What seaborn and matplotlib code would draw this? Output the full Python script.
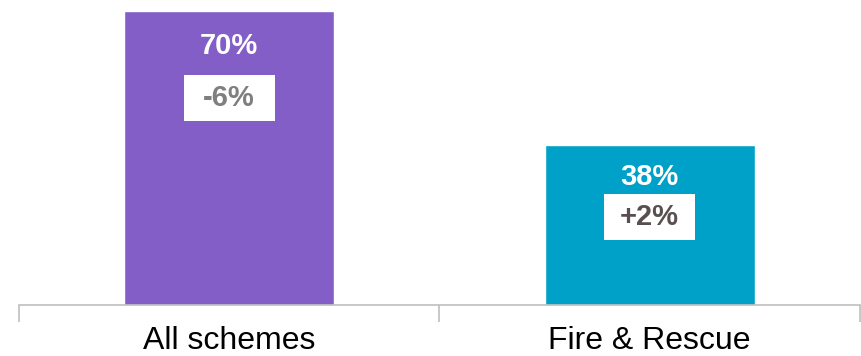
import matplotlib
matplotlib.use("Agg")
import matplotlib.pyplot as plt
import matplotlib.transforms as mtransforms
from matplotlib.patches import Rectangle
import seaborn as sns
import pandas as pd

categories = ["All schemes", "Fire & Rescue"]
values = [70, 38]
changes = ["-6%", "+2%"]
bar_colors = ["#835EC6", "#00A1C8"]
change_colors = ["#7F7F7F", "#594F50"]

sns.set_theme(style="white")
plt.rcParams['font.family'] = ['Liberation Sans', 'DejaVu Sans']

df = pd.DataFrame({"cat": categories, "val": values})

fig = plt.figure(figsize=(8.62, 3.56), dpi=100)
ax = fig.add_axes([19/862, 1 - 305/356, 841/862, 305/356])

sns.barplot(data=df, x="cat", y="val", hue="cat", palette=bar_colors,
            width=0.5, legend=False, ax=ax, saturation=1)

px_per_y = 4.2
px_per_x = 841 / 2
ax.set_ylim(0, 305 / px_per_y)
ax.set_xlim(-0.5, 1.5)
for s in ["top", "right", "left"]:
    ax.spines[s].set_visible(False)
ax.spines["bottom"].set_color("#BFBFBF")
ax.spines["bottom"].set_linewidth(1.2)
ax.set_yticks([])
ax.set_xlabel("")
ax.set_ylabel("")
ax.set_xticks([0, 1])
ax.set_xticklabels(categories, fontsize=23, color="black")
ax.set_xticks([-0.5, 0.5, 1.5], minor=True)
ax.tick_params(axis="x", which="major", bottom=False, length=0, pad=15)
ax.tick_params(axis="x", which="minor", bottom=True, length=12, width=1.2,
               color="#BFBFBF", direction="out")

val_offsets = [-35, -31.5]
box_offsets = [-87, -71.5]
box_w, box_h = 91, 46
for i, (v, ch) in enumerate(zip(values, changes)):
    ax.annotate(f"{v}%", xy=(i, v), xytext=(0, val_offsets[i]), textcoords="offset pixels",
                ha="center", va="center", fontsize=21, fontweight="bold", color="white")
    tr = mtransforms.offset_copy(ax.transData, fig=fig, x=0, y=box_offsets[i], units="dots")
    ax.add_patch(Rectangle((i - box_w / 2 / px_per_x, v - box_h / 2 / px_per_y),
                           box_w / px_per_x, box_h / px_per_y, transform=tr,
                           facecolor="white", edgecolor="none", zorder=5))
    ax.annotate(ch, xy=(i, v), xytext=(0, box_offsets[i]), textcoords="offset pixels",
                ha="center", va="center", fontsize=21, fontweight="bold",
                color=change_colors[i], zorder=6)

fig.savefig("out.png", dpi=100)
